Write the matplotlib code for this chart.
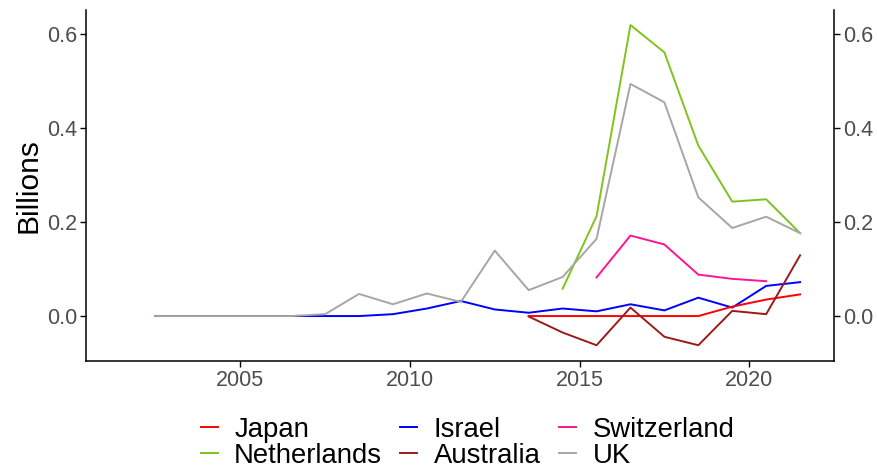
import matplotlib.pyplot as plt
import numpy as np

# years are plotted at mid-year
years = np.arange(2002, 2022) + 0.5

uk = [0, 0, 0, 0, 0, 0.004, 0.047, 0.025, 0.048, 0.030,
      0.139, 0.055, 0.083, 0.164, 0.493, 0.454, 0.252, 0.187, 0.211, 0.176]
israel = [0, 0, 0, 0, 0, 0, 0, 0.004, 0.016, 0.032,
          0.014, 0.007, 0.016, 0.010, 0.025, 0.012, 0.039, 0.018, 0.064, 0.072]
netherlands = [0.058, 0.212, 0.618, 0.560, 0.362, 0.243, 0.248, 0.176]   # 2014.5 on
switzerland = [0.082, 0.171, 0.152, 0.088, 0.079, 0.074]                 # 2015.5 - 2020.5
japan = [0, 0, 0, 0, 0, 0, 0.020, 0.035, 0.046]                          # 2013.5 on
australia = [-0.001, -0.035, -0.062, 0.018, -0.044, -0.062, 0.011, 0.004, 0.129]

series = [
    ("Japan", years[11:], japan, "#FF0000"),
    ("Netherlands", years[12:], netherlands, "#7FC31C"),
    ("Israel", years, israel, "#0000FF"),
    ("Australia", years[11:], australia, "#9B1B1B"),
    ("Switzerland", years[13:19], switzerland, "#FF1493"),
    ("UK", years, uk, "#A6A6A6"),
]

plt.rcParams['font.family'] = ['Liberation Sans', 'DejaVu Sans']

fig = plt.figure(figsize=(8.77, 4.68), dpi=100)
ax = fig.add_axes([0.098, 0.2286, 0.853, 0.75])

# draw order: Israel first so grey UK sits on top at zero
draw_order = ["Israel", "Japan", "Australia", "Netherlands", "Switzerland", "UK"]
lines = {}
for name in draw_order:
    for lab, x, y, c in series:
        if lab == name:
            lines[lab], = ax.plot(x, y, color=c, lw=1.4, label=lab)

ax.set_xlim(2000.45, 2022.5)
ax.set_ylim(-0.0955, 0.65)
ax.set_xticks([2005, 2010, 2015, 2020])
ax.set_yticks([0.0, 0.2, 0.4, 0.6])
ax.set_yticklabels(["0.0", "0.2", "0.4", "0.6"])
ax.set_ylabel("Billions", fontsize=21.5, labelpad=3)

ax.spines["top"].set_visible(False)
for s in ["left", "bottom", "right"]:
    ax.spines[s].set_linewidth(1.1)
ax.tick_params(axis="both", labelsize=15.5, labelcolor="#4D4D4D", length=4, width=1.0, pad=2.5)
ax.tick_params(axis="y", right=True, labelright=True)

handles = [lines[lab] for lab, *_ in series]
labels = [lab for lab, *_ in series]
fig.legend(handles, labels, loc="upper center", bbox_to_anchor=(0.533, 0.11),
           ncol=3, frameon=False, fontsize=19.8, handlelength=0.62, handletextpad=0.6,
           columnspacing=0.66, labelspacing=0.0, borderaxespad=0, borderpad=0)

fig.savefig("out.png", dpi=100)
